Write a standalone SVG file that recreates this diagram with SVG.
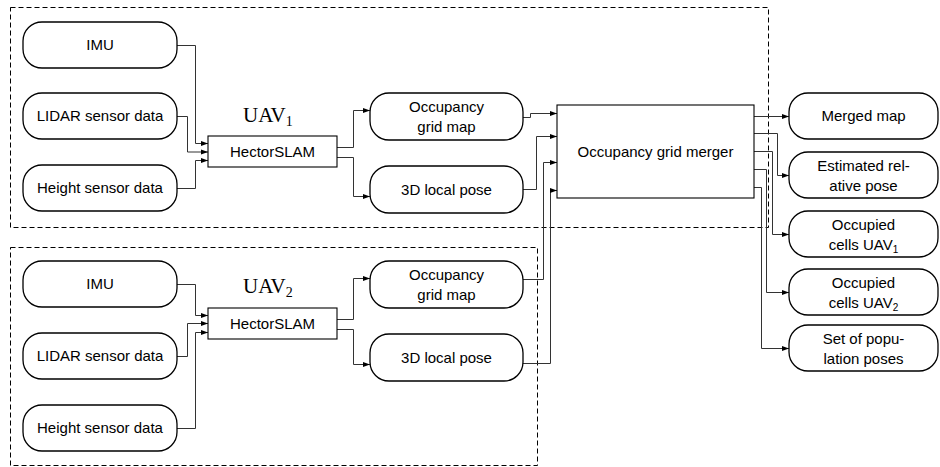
<svg xmlns="http://www.w3.org/2000/svg" width="940" height="467" viewBox="0 0 940 467">
<style>
.pill{fill:#fff;stroke:#000;stroke-width:1.3}
.box{fill:#fff;stroke:#000;stroke-width:1.1}
.grp{fill:none;stroke:#000;stroke-width:1;stroke-dasharray:5 3}
.t{font-family:"Liberation Sans","DejaVu Sans",sans-serif;font-size:15px;fill:#000;text-anchor:middle}
.uav{font-family:"Liberation Serif","DejaVu Serif",serif;font-size:21px;fill:#000}
.sub{font-size:10px}
.c path{fill:none;stroke:#333;stroke-width:1;marker-end:url(#arr)}
</style>
<defs>
<marker id="arr" markerUnits="userSpaceOnUse" markerWidth="7" markerHeight="6" refX="7" refY="3" orient="auto">
<path d="M0,0.5 L7,3 L0,5.5 Z" fill="#000"/>
</marker>
</defs>
<rect width="940" height="467" fill="#fff"/>
<g id="group-uav1"><rect class="grp" x="10.5" y="7.5" width="758" height="220"/></g>
<g id="group-uav2"><rect class="grp" x="10.5" y="247.5" width="527" height="218"/></g>
<g class="c" id="connectors">
<path d="M177,45.5 H195.5 V143.5 H208"/>
<path d="M177,116.5 H187.5 V152 H208"/>
<path d="M177,188.5 H195.5 V160.5 H208"/>
<path d="M337,147.5 H353.5 V110.5 H370"/>
<path d="M337,157.5 H353.5 V196.5 H370"/>
<path d="M177,284.5 H195.5 V315.5 H208"/>
<path d="M177,356.5 H187.5 V323.5 H208"/>
<path d="M177,428.5 H195.5 V332.5 H208"/>
<path d="M337,319.5 H353.5 V278.5 H370"/>
<path d="M337,329.5 H353.5 V364.5 H370"/>
<path d="M523,117.5 H530.5 V113.5 H557"/>
<path d="M523,189.5 H536.5 V136.5 H557"/>
<path d="M523,279.5 H543.5 V162.5 H557"/>
<path d="M523,363.5 H550.5 V190.5 H557"/>
<path d="M754,116.5 H789"/>
<path d="M754,133.5 H777.5 V175.5 H789"/>
<path d="M754,151.5 H772.5 V234.5 H789"/>
<path d="M754,169.5 H766.5 V292.5 H789"/>
<path d="M754,187.5 H761.5 V348.5 H789"/>
</g>
<g id="imu1"><rect class="pill" x="23" y="22" width="154" height="46" rx="19"/><text class="t" x="100" y="50">IMU</text></g>
<g id="lidar1"><rect class="pill" x="23" y="93" width="154" height="46" rx="19"/><text class="t" x="100" y="121">LIDAR sensor data</text></g>
<g id="height1"><rect class="pill" x="23" y="165" width="154" height="46" rx="19"/><text class="t" x="100" y="193">Height sensor data</text></g>
<g id="uav1-label"><text class="uav" x="243" y="122">UAV<tspan font-size="14" dy="4">1</tspan></text></g>
<g id="hector1"><rect class="box" x="208" y="136" width="129" height="31"/><text class="t" x="272.5" y="156.5">HectorSLAM</text></g>
<g id="ogm1"><rect class="pill" x="370" y="93" width="153" height="47" rx="19"/><text class="t" x="446.5" y="112">Occupancy</text><text class="t" x="446.5" y="132">grid map</text></g>
<g id="pose1"><rect class="pill" x="370" y="166" width="153" height="47" rx="19"/><text class="t" x="446.5" y="194.5">3D local pose</text></g>
<g id="imu2"><rect class="pill" x="23" y="261" width="154" height="46" rx="19"/><text class="t" x="100" y="289">IMU</text></g>
<g id="lidar2"><rect class="pill" x="23" y="333" width="154" height="46" rx="19"/><text class="t" x="100" y="361">LIDAR sensor data</text></g>
<g id="height2"><rect class="pill" x="23" y="405" width="154" height="46" rx="19"/><text class="t" x="100" y="433">Height sensor data</text></g>
<g id="uav2-label"><text class="uav" x="243" y="293">UAV<tspan font-size="14" dy="4">2</tspan></text></g>
<g id="hector2"><rect class="box" x="208" y="308" width="129" height="31"/><text class="t" x="272.5" y="328.5">HectorSLAM</text></g>
<g id="ogm2"><rect class="pill" x="370" y="261" width="153" height="47" rx="19"/><text class="t" x="446.5" y="280">Occupancy</text><text class="t" x="446.5" y="300">grid map</text></g>
<g id="pose2"><rect class="pill" x="370" y="334" width="153" height="47" rx="19"/><text class="t" x="446.5" y="362.5">3D local pose</text></g>
<g id="merger"><rect class="box" x="557" y="105" width="197" height="93"/><text class="t" x="655.5" y="156.5">Occupancy grid merger</text></g>
<g id="merged-map"><rect class="pill" x="789" y="93" width="149" height="46" rx="19"/><text class="t" x="863.5" y="121">Merged map</text></g>
<g id="rel-pose"><rect class="pill" x="789" y="152" width="149" height="46" rx="19"/><text class="t" x="863.5" y="171">Estimated rel-</text><text class="t" x="863.5" y="191">ative pose</text></g>
<g id="cells1"><rect class="pill" x="789" y="211" width="149" height="46" rx="19"/><text class="t" x="863.5" y="230">Occupied</text><text class="t" x="863.5" y="250">cells UAV<tspan class="sub" dy="3">1</tspan></text></g>
<g id="cells2"><rect class="pill" x="789" y="269" width="149" height="46" rx="19"/><text class="t" x="863.5" y="288">Occupied</text><text class="t" x="863.5" y="308">cells UAV<tspan class="sub" dy="3">2</tspan></text></g>
<g id="pop-poses"><rect class="pill" x="789" y="325" width="149" height="46" rx="19"/><text class="t" x="863.5" y="344">Set of popu-</text><text class="t" x="863.5" y="364">lation poses</text></g>
</svg>
